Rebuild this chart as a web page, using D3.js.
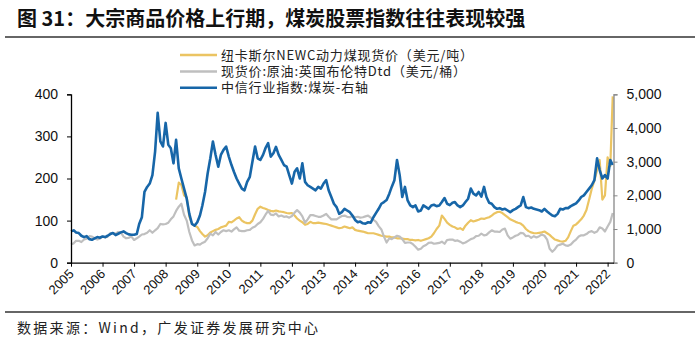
<!doctype html>
<html lang="zh">
<head>
<meta charset="UTF-8">
<title>大宗商品价格与煤炭指数</title>
<script src="https://d3js.org/d3.v7.min.js"></script>
<style>
  body { margin: 0; background: #fff; }
  text { font-family: "Liberation Sans", Arial, sans-serif; }
  .cjk { font-family: "Noto Sans CJK SC", "Noto Sans", sans-serif; }
  .tick-label { font-family: "Liberation Sans Narrow", "Liberation Sans", Arial, sans-serif; font-size: 14px; fill: #111; }
</style>
</head>
<body>
<div class="canvas"></div>
<script>
  // 月度数据 2005-01 ~ 2022-03
  const startMonth = new Date(2005, 0, 1);
  const endMonth = new Date(2022, 3, 1);

  // 中信行业指数:煤炭 (右轴)
  const coalIndex = [
    930, 960, 900, 880, 800, 760, 790, 700, 680, 720, 760, 740,
    780, 760, 800, 850, 880, 820, 860, 900, 930, 880, 840, 830,
    830, 850, 1150, 1350, 2100, 2250, 2350, 2600, 3300, 4450, 3600, 3450,
    4150, 3500, 3400, 2950, 3650, 2800, 2500, 2200, 1900, 1450, 1150, 1100,
    1200, 1400, 1700, 2100, 2650, 3100, 3600, 3200, 2850, 3200, 3350, 3450,
    3150, 2900, 2700, 2500, 2350, 2200, 2150, 2400, 2550, 3000, 3450, 3100,
    3050, 3200, 3400, 3550, 3150, 3250, 3440, 3200, 3050, 2900, 2850, 2600,
    2350, 2700, 2800, 2500, 2950, 2400, 2300, 2250, 2200, 2150, 2250, 2200,
    2350, 2450, 2150, 1950, 1750, 1650, 1450, 1500, 1600, 1550, 1500, 1400,
    1270, 1200, 1220, 1170, 1160, 1200, 1190, 1350, 1480, 1600, 1750, 1800,
    1860, 2050, 2250, 2450, 3050, 2600, 1950, 2250, 1850, 1700, 1650, 1700,
    1520, 1550, 1700, 1650, 1600, 1700, 1720, 1680, 1700, 1800, 1920, 1750,
    1710, 1780, 1800, 1700, 1650, 1700, 1800, 1900, 2200, 2050, 2000, 2100,
    1960, 2250, 1950, 1780, 1750, 1650, 1600, 1620, 1580, 1600, 1550, 1500,
    1560, 1600, 1650, 1700, 1950, 1650, 1620, 1640, 1600, 1580, 1560, 1520,
    1600, 1520, 1460, 1400, 1380, 1450, 1600, 1580, 1620, 1620, 1680, 1720,
    1760, 1850, 1950, 2000, 2100, 2200, 2300, 2450, 3100, 2750, 2500, 2600,
    2500, 3050, 2900
  ];

  // 纽卡斯尔NEWC动力煤现货价, 2008-05 起
  const newcStart = new Date(2008, 4, 1);
  const newcCoal = [
    150, 190, 185, 160, 155, 110, 92, 88,
    85, 75, 68, 62, 65, 72, 75, 78, 80, 84, 86, 88,
    97, 96, 100, 105, 108, 100, 96, 94, 94, 100, 115, 128,
    133, 130, 128, 125, 123, 122, 124, 122, 121, 120, 118, 117,
    118, 112, 105, 100, 96, 90, 92, 97, 94, 94, 95, 94,
    93, 92, 90, 88, 86, 84, 82, 83, 86, 84, 82, 84,
    78, 76, 75, 74, 72, 70, 70, 70, 68, 66, 64, 63,
    62, 62, 60, 60, 58, 58, 57, 56, 56, 54, 54, 53,
    54, 52, 54, 56, 58, 62, 70, 80, 88, 112, 104, 95,
    90, 86, 84, 80, 82, 78, 88, 95, 101, 98, 100, 102,
    105, 104, 106, 108, 112, 117, 120, 121, 118, 113, 108, 103,
    100, 97, 95, 93, 88, 80, 75, 72, 70, 70, 71, 72,
    74, 70, 66, 60, 55, 53, 51, 50, 52, 60, 75, 88,
    91, 97, 103, 112, 125, 150, 175, 195, 220, 244, 150, 160,
    250, 230, 395
  ];

  // 现货价:原油:英国布伦特Dtd
  const brent = [
    44, 46, 52, 52, 49, 55, 57, 63, 62, 58, 55, 57,
    62, 60, 62, 70, 70, 69, 73, 72, 62, 58, 59, 62,
    54, 58, 62, 67, 68, 71, 77, 71, 77, 82, 92, 91,
    92, 95, 103, 110, 123, 133, 140, 114, 100, 73, 53, 41,
    44, 43, 47, 50, 58, 69, 65, 73, 67, 73, 77, 75,
    77, 74, 79, 84, 76, 75, 75, 77, 78, 83, 86, 92,
    96, 104, 114, 123, 114, 113, 117, 110, 112, 109, 110, 107,
    111, 119, 125, 119, 110, 95, 103, 113, 113, 111, 109, 109,
    112, 116, 109, 103, 103, 103, 107, 111, 112, 109, 108, 111,
    108, 109, 107, 108, 110, 112, 107, 102, 97, 87, 79, 62,
    48, 58, 56, 60, 64, 62, 56, 47, 48, 48, 44, 38,
    31, 33, 39, 42, 47, 48, 45, 46, 47, 50, 45, 54,
    55, 55, 52, 53, 50, 46, 48, 52, 56, 58, 63, 64,
    69, 65, 66, 72, 77, 74, 74, 73, 79, 81, 65, 57,
    60, 64, 66, 71, 70, 63, 64, 59, 63, 60, 63, 67,
    64, 55, 33, 26, 32, 41, 43, 45, 41, 40, 43, 50,
    55, 62, 65, 65, 68, 73, 75, 71, 74, 84, 81, 74,
    86, 97, 118
  ];

  const leftTicks = [0, 100, 200, 300, 400];
  const rightTicks = [0, 1000, 2000, 3000, 4000, 5000];
  const yearTicks = d3.range(2005, 2023);

  const legendNames = [
    '纽卡斯尔NEWC动力煤现货价（美元/吨）',
    '现货价:原油:英国布伦特Dtd（美元/桶）',
    '中信行业指数:煤炭-右轴'
  ];
  const colors = ['#EBC462', '#BFBFBF', '#1766A8'];

  const width = 700, height = 347;
  const plot = { left: 71, right: 613.5, top: 94.3, bottom: 262.7 };

  const svg = d3.select('.canvas')
    .append('svg')
    .attr('width', width)
    .attr('height', height);

  // 标题
  svg.append('text')
    .attr('class', 'cjk')
    .attr('x', 17)
    .attr('y', 26)
    .attr('font-size', '20px')
    .attr('font-weight', 'bold')
    .attr('fill', '#111')
    .text('图 31：大宗商品价格上行期，煤炭股票指数往往表现较强');

  svg.append('line')
    .attr('x1', 5).attr('x2', 695)
    .attr('y1', 37).attr('y2', 37)
    .attr('stroke', '#333').attr('stroke-width', 1.5);

  svg.append('line')
    .attr('x1', 5).attr('x2', 695)
    .attr('y1', 312).attr('y2', 312)
    .attr('stroke', '#333').attr('stroke-width', 1.5);

  svg.append('text')
    .attr('class', 'cjk')
    .attr('x', 17)
    .attr('y', 333)
    .attr('font-size', '14px')
    .attr('letter-spacing', '2.3px')
    .attr('fill', '#222')
    .text('数据来源：Wind，广发证券发展研究中心');

  const months = d3.timeMonth.range(startMonth, endMonth);
  const x = d3.scaleTime()
    .domain([startMonth, new Date(2022, 2, 10)])
    .range([plot.left, plot.right]);
  const yLeft = d3.scaleLinear().domain([0, 400]).range([plot.bottom, plot.top]);
  const yRight = d3.scaleLinear().domain([0, 5000]).range([plot.bottom, plot.top]);

  const newcOffset = d3.timeMonth.count(startMonth, newcStart);
  const series = [
    { values: newcCoal.map((v, i) => ({ date: months[newcOffset + i], v })), y: yLeft, color: colors[0], w: 2.2 },
    { values: brent.map((v, i) => ({ date: months[i], v })), y: yLeft, color: colors[1], w: 2.2 },
    { values: coalIndex.map((v, i) => ({ date: months[i], v })), y: yRight, color: colors[2], w: 2.6 }
  ];

  const g = svg.append('g');
  series.forEach(s => {
    const line = d3.line()
      .x(d => x(d.date))
      .y(d => s.y(d.v));
    g.append('path')
      .datum(s.values)
      .attr('d', line)
      .attr('fill', 'none')
      .attr('stroke', s.color)
      .attr('stroke-width', s.w)
      .attr('stroke-linejoin', 'round');
  });

  // 左轴
  const leftAxis = svg.append('g')
    .attr('transform', `translate(${plot.left},0)`)
    .call(d3.axisLeft(yLeft).tickValues(leftTicks).tickSize(4).tickPadding(9));
  leftAxis.select('.domain').attr('stroke', '#000').attr('stroke-width', 1.3);
  leftAxis.selectAll('.tick line').attr('stroke', '#000');
  leftAxis.selectAll('text').attr('class', 'tick-label').attr('font-size', null).attr('font-family', null);

  // 右轴
  const rightAxis = svg.append('g')
    .attr('transform', `translate(${plot.right},0)`)
    .call(d3.axisRight(yRight).tickValues(rightTicks).tickSize(4).tickPadding(9));
  rightAxis.select('.domain').attr('stroke', '#888').attr('stroke-width', 1.3);
  rightAxis.selectAll('.tick line').attr('stroke', '#888');
  rightAxis.selectAll('text').attr('class', 'tick-label').attr('font-size', null).attr('font-family', null);

  // 横轴
  const bottomAxis = svg.append('g')
    .attr('transform', `translate(0,${plot.bottom})`)
    .call(d3.axisBottom(x)
      .tickValues(yearTicks.map(yr => new Date(yr, 0, 1)))
      .tickFormat(d3.timeFormat('%Y'))
      .tickSize(4)
      .tickSizeOuter(0));
  bottomAxis.select('.domain').attr('stroke', '#000').attr('stroke-width', 1.3);
  bottomAxis.selectAll('.tick line').attr('stroke', '#000');
  bottomAxis.selectAll('text')
    .attr('class', 'tick-label')
    .attr('font-size', null).attr('font-family', null)
    .style('font-size', '13px')
    .attr('text-anchor', 'end')
    .attr('dy', null)
    .attr('y', 0)
    .attr('transform', 'translate(3,12) rotate(-45)');

  // 图例
  const legend = svg.append('g').attr('transform', 'translate(180,55)');
  legendNames.forEach((name, i) => {
    const row = legend.append('g').attr('transform', `translate(0,${i * 16.4})`);
    row.append('line')
      .attr('x1', 0).attr('x2', 37)
      .attr('stroke', colors[i]).attr('stroke-width', 2.5);
    row.append('text')
      .attr('class', 'cjk')
      .attr('x', 41)
      .attr('y', 4.5)
      .attr('font-size', '13px')
      .attr('letter-spacing', '0.8px')
      .attr('fill', '#222')
      .text(name);
  });
</script>
</body>
</html>
